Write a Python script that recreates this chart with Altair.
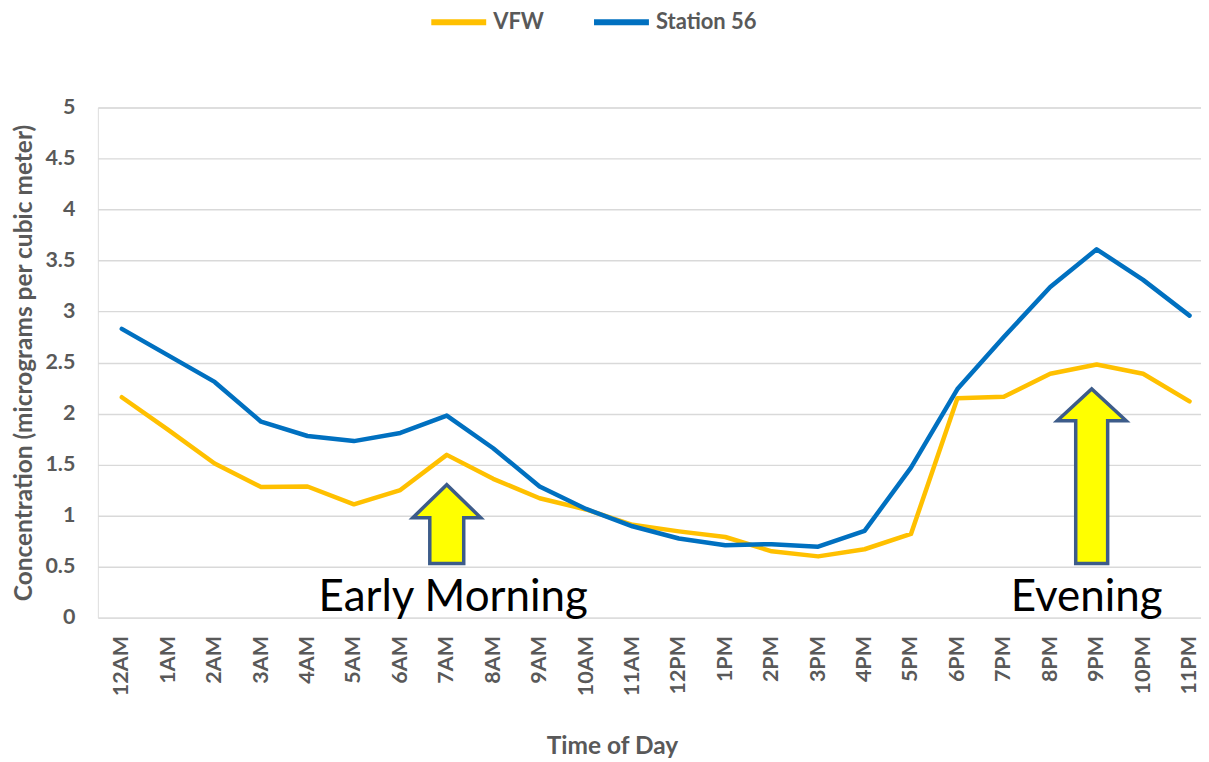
import altair as alt
import pandas as pd

hours = ["12AM", "1AM", "2AM", "3AM", "4AM", "5AM", "6AM", "7AM", "8AM", "9AM", "10AM", "11AM",
         "12PM", "1PM", "2PM", "3PM", "4PM", "5PM", "6PM", "7PM", "8PM", "9PM", "10PM", "11PM"]
vfw = [2.16, 1.84, 1.51, 1.28, 1.285, 1.11, 1.25, 1.595, 1.36, 1.17, 1.06, 0.91,
       0.845, 0.79, 0.65, 0.60, 0.67, 0.82, 2.15, 2.165, 2.39, 2.48, 2.39, 2.12]
station56 = [2.83, 2.57, 2.31, 1.92, 1.78, 1.73, 1.81, 1.98, 1.66, 1.285, 1.065, 0.895,
             0.775, 0.71, 0.72, 0.695, 0.85, 1.47, 2.24, 2.75, 3.24, 3.61, 3.31, 2.96]
series_names = ["VFW", "Station 56"]
series_colors = ["#FFC000", "#0070C0"]
y_ticks = [0, 0.5, 1, 1.5, 2, 2.5, 3, 3.5, 4, 4.5, 5]

arrow_hours = ["7AM", "9PM"]
arrow_base = [0.5, 0.5]
arrow_names = ["short", "tall"]
note_texts = ["Early Morning", "Evening"]
note_hours = ["7AM", "9PM"]
note_values = [0, 0]

rows = []
for name, vals in zip(series_names, [vfw, station56]):
    for h, v in zip(hours, vals):
        rows.append({"hour": h, "value": v, "series": name})
df = pd.DataFrame(rows)

arrows_df = pd.DataFrame({"hour": arrow_hours, "value": arrow_base, "kind": arrow_names})
notes_df = pd.DataFrame({"hour": note_hours, "value": note_values, "note": note_texts})

GRAY = "#595959"
FONT = "Lato"

x_enc = alt.X(
    "hour:N",
    scale=alt.Scale(type="point", domain=hours, padding=0.3815, align=0.676),
    axis=alt.Axis(
        title="Time of Day", labelAngle=270, labelFont=FONT, labelFontSize=21.5,
        labelFontWeight="bold", labelColor=GRAY, labelPadding=18, ticks=False, tickSize=0,
        domain=False, grid=False, titleFont=FONT, titleFontSize=24.5, titleFontWeight="bold",
        titleColor=GRAY, titleX=515, titleY=141, titleBaseline="bottom", titleAlign="center",
        labelOverlap=False,
    ),
)
y_enc = alt.Y(
    "value:Q",
    scale=alt.Scale(domain=[0, 5], nice=False, zero=True),
    axis=alt.Axis(
        title="Concentration (micrograms per cubic meter)", values=y_ticks, format="~g",
        labelFont=FONT, labelFontSize=21.5, labelFontWeight="bold", labelColor=GRAY,
        labelPadding=23, ticks=False, tickSize=0, domain=False, grid=True,
        gridColor="#D9D9D9", gridWidth=1.4, titleFont=FONT, titleFontSize=24.5,
        titleFontWeight="bold", titleColor=GRAY, titleX=-73, titleY=255.5,
        titleAngle=270, titleBaseline="middle", titleAlign="center",
    ),
)

lines = alt.Chart(df).mark_line(strokeWidth=4.5, strokeCap="round", strokeJoin="round").encode(
    x=x_enc,
    y=y_enc,
    color=alt.Color(
        "series:N",
        scale=alt.Scale(domain=series_names, range=series_colors),
        legend=alt.Legend(
            orient="none", legendX=331, legendY=-116, direction="horizontal", title=None,
            symbolType="stroke", symbolSize=3025, symbolStrokeWidth=6, labelFont=FONT,
            labelFontSize=22, labelFontWeight="bold", labelColor=GRAY, labelOffset=4,
            columnPadding=38, padding=0,
        ),
    ),
    order=alt.Order("series_order:Q"),
).transform_calculate(series_order="datum.series == 'VFW' ? 0 : 1")

arrow_short = "M-17,-3 L-17,-49 L-34,-49 L0,-82 L34,-49 L17,-49 L17,-3 Z"
arrow_tall = "M-21,-3 L-21,-146 L-39.5,-146 L-5,-178 L29.5,-146 L11,-146 L11,-3 Z"

arrows = alt.Chart(arrows_df).mark_point(
    filled=True, size=4, fill="#FFFF00", stroke="#3D5C8A", strokeWidth=3.5, opacity=1,
    strokeJoin="miter",
).encode(
    x=x_enc,
    y=y_enc,
    shape=alt.Shape("kind:N", scale=alt.Scale(domain=arrow_names, range=[arrow_short, arrow_tall]),
                    legend=None),
)

note1 = alt.Chart(notes_df).transform_filter(alt.datum.note == note_texts[0]).mark_text(
    font=FONT, fontSize=44, color="#000000", baseline="alphabetic", align="center", dx=6.5, dy=-7,
).encode(x=x_enc, y=y_enc, text="note:N")
note2 = alt.Chart(notes_df).transform_filter(alt.datum.note == note_texts[1]).mark_text(
    font=FONT, fontSize=44, color="#000000", baseline="alphabetic", align="center", dx=-10, dy=-7,
).encode(x=x_enc, y=y_enc, text="note:N")

chart = alt.layer(lines, arrows, note1, note2).properties(
    width=1105, height=511,
    autosize=alt.AutoSizeParams(type="none"),
    padding={"left": 90, "top": 99, "right": 0, "bottom": 142},
).configure_view(strokeWidth=0).configure(background="white")

chart.save("out.html", embed_options={"renderer": "svg", "actions": False})
